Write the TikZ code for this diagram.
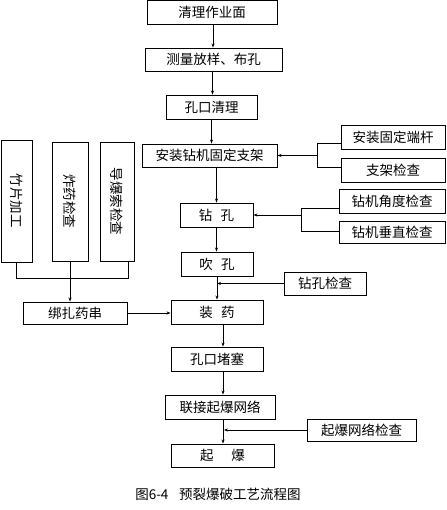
\documentclass[tikz,border=0pt]{standalone}
\usepackage{fontspec}
\usepackage{graphicx}
\setmainfont{Noto Sans CJK SC}
\usetikzlibrary{arrows.meta}
\begin{document}
\begin{tikzpicture}[x=1pt,y=-1pt,
  box/.style={draw,line width=0.9pt,inner sep=0pt,anchor=center,font=\fontsize{13.5}{15}\selectfont},
  arr/.style={line width=0.9pt,-{Stealth[length=4pt,width=3pt]}},
  ln/.style={line width=0.9pt}]
\useasboundingbox (0,0) rectangle (446,510);
% main chain
\node[box,minimum width=130,minimum height=23.5] (n1) at (212,12.25) {清理作业面};
\node[box,minimum width=137,minimum height=23] (n2) at (213.5,59.5) {测量放样、布孔};
\node[box,minimum width=91,minimum height=24] (n3) at (211.5,107) {孔口清理};
\node[box,minimum width=135,minimum height=23] (n4) at (209.5,155.5) {安装钻机固定支架};
\node[box,minimum width=73,minimum height=24] (n5) at (216.5,215) {钻\hspace{0.6em}孔};
\node[box,minimum width=72,minimum height=24] (n6) at (217,264) {吹\hspace{0.6em}孔};
\node[box,minimum width=92,minimum height=24] (n7) at (217,312) {装\hspace{0.6em}药};
\node[box,minimum width=92,minimum height=24] (n8) at (217,359) {孔口堵塞};
\node[box,minimum width=110,minimum height=24] (n9) at (220,407) {联接起爆网络};
\node[box,minimum width=103,minimum height=23] (n10) at (222.5,455.5) {起\hspace{1.3em}爆};
% right checks
\node[box,minimum width=104,minimum height=24] (r1) at (393,137) {安装固定端杆};
\node[box,minimum width=104,minimum height=24] (r2) at (393,170) {支架检查};
\node[box,minimum width=106,minimum height=24] (r3) at (392,201) {钻机角度检查};
\node[box,minimum width=106,minimum height=22] (r4) at (392,232) {钻机垂直检查};
\node[box,minimum width=82,minimum height=23] (r5) at (325,283.5) {钻孔检查};
\node[box,minimum width=109,minimum height=22] (r6) at (361.5,430) {起爆网络检查};
% left group
\node[box,minimum width=31,minimum height=122] (l1) at (16.5,201) {\rotatebox{-90}{竹片加工}};
\node[box,minimum width=36,minimum height=119] (l2) at (70,201.5) {\rotatebox{-90}{炸药检查}};
\node[box,minimum width=34,minimum height=119] (l3) at (117,201.5) {\rotatebox{-90}{导爆索检查}};
\node[box,minimum width=104,minimum height=22] (l4) at (75,313) {绑扎药串};
% caption
\node[font=\fontsize{13.5}{15}\selectfont,inner sep=0pt] (cap) at (218,494) {图6-4\hspace{0.8em}预裂爆破工艺流程图};
% main arrows
\draw[arr] ([xshift=1pt]n1.south) -- ([xshift=1pt]n1.south |- n2.north);
\draw[arr] ([xshift=-1pt]n2.south) -- ([xshift=-1pt]n2.south |- n3.north);
\draw[arr] (n3.south) -- (n3.south |- n4.north);
\draw[arr] (n5.north |- n4.south) -- (n5.north);
\draw[arr] (n5.south) -- (n5.south |- n6.north);
\draw[arr] (n6.south) -- (n6.south |- n7.north);
\draw[arr] ([xshift=6pt]n7.south) -- ([xshift=6pt]n7.south |- n8.north);
\draw[arr] ([xshift=6pt]n8.south) -- ([xshift=6pt]n8.south |- n9.north);
\draw[arr] ([xshift=3pt]n9.south) -- ([xshift=3pt]n9.south |- n10.north);
% right brackets
\coordinate (b1) at (317,143);
\coordinate (b2) at (317,167);
\draw[ln] (r1.west |- b1) -- (b1) -- (b2) -- (r2.west |- b2);
\draw[arr] (b1 |- n4.east) -- (n4.east);
\coordinate (c1) at (301,208);
\coordinate (c2) at (301,231);
\draw[ln] (r3.west |- c1) -- (c1) -- (c2) -- (r4.west |- c2);
\draw[arr] (c1 |- n5.east) -- (n5.east);
\draw[arr] (r5.west) -- (r5.west -| n6.south);
\draw[arr] (r6.west) -- ([xshift=4pt]r6.west -| n9.south);
% left group connectors
\coordinate (j3) at (128,278);
\draw[ln] (l1.south) -- (l1.south |- j3) -- (j3) -- (j3 |- l3.south);
\draw[arr] (l2.south) -- (l2.south |- l4.north);
\draw[arr] (l4.east) -- (l4.east -| n7.west);
\end{tikzpicture}
\end{document}
